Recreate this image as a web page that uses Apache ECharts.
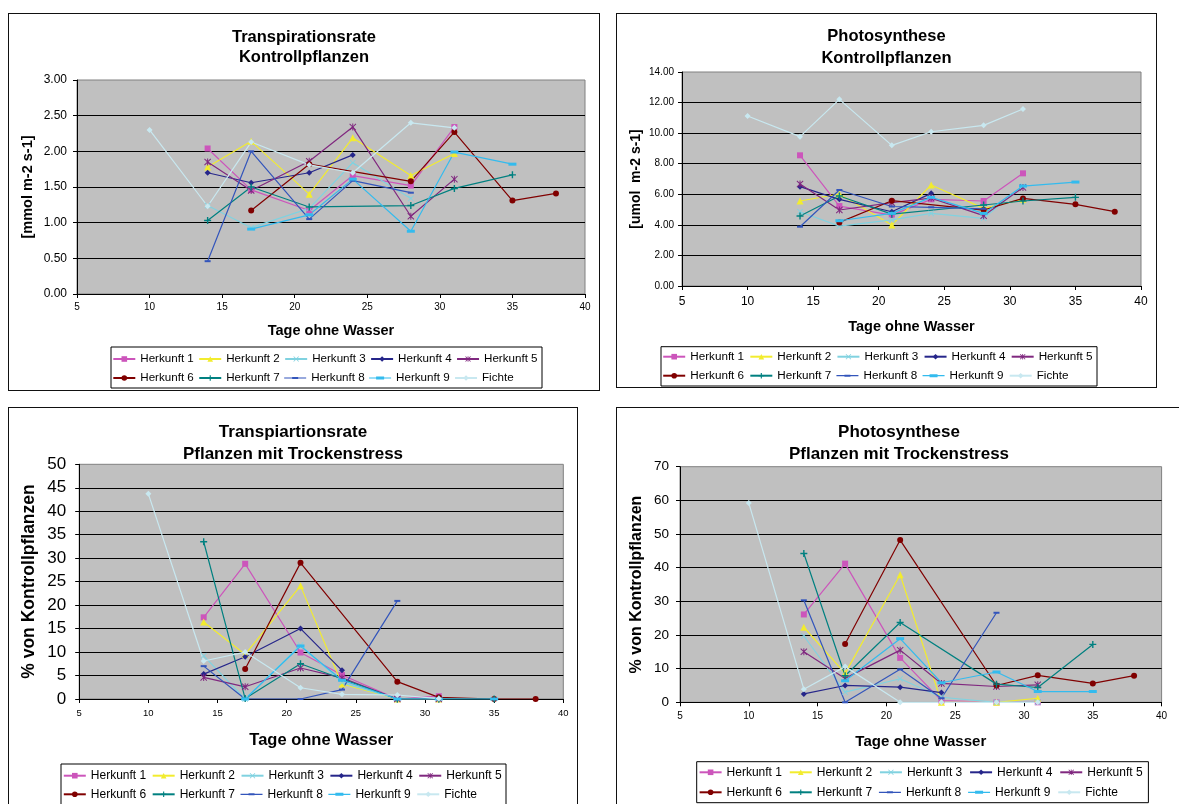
<!DOCTYPE html>
<html><head><meta charset="utf-8">
<script src="https://cdn.jsdelivr.net/npm/echarts/dist/echarts.min.js"></script>
<style>
html,body{margin:0;padding:0;background:#fff;width:1179px;height:804px;overflow:hidden;}
.p{position:absolute;border:1px solid #111;box-sizing:border-box;background:#fff;}
</style></head><body>
<div id="c1" class="p" style="left:8px;top:13px;width:592px;height:378px"></div>
<div id="c2" class="p" style="left:616px;top:13px;width:541px;height:375px"></div>
<div id="c3" class="p" style="left:8px;top:407px;width:570px;height:420px"></div>
<div id="c4" class="p" style="left:616px;top:407px;width:566px;height:420px"></div>
<script>
// ---------- DATA ----------
const days = [10, 14, 17, 21, 24, 28, 31, 35, 38];
const seriesNames = ['Herkunft 1','Herkunft 2','Herkunft 3','Herkunft 4','Herkunft 5',
                     'Herkunft 6','Herkunft 7','Herkunft 8','Herkunft 9','Fichte'];
const xTicks = [5, 10, 15, 20, 25, 30, 35, 40];

// Transpirationsrate Kontrollpflanzen [mmol m-2 s-1]
const transCtrl = [
  [null, 2.04, 1.46, 1.17, 1.66, 1.52, 2.34, null, null],
  [null, 1.78, 2.14, 1.40, 2.19, 1.66, 1.97, null, null],
  [null, 1.24, 0.93, 1.20, 1.84, 1.34, null, null, null],
  [null, 1.70, 1.56, 1.70, 1.95, null, null, null, null],
  [null, 1.85, 1.45, 1.86, 2.34, 1.09, 1.61, null, null],
  [null, null, 1.17, 1.82, null, 1.58, 2.27, 1.31, 1.41],
  [null, 1.03, 1.50, 1.22, null, 1.24, 1.48, 1.67, null],
  [null, 0.46, 2.00, 1.05, 1.59, 1.42, null, null, null],
  [null, null, 0.91, 1.11, 1.61, 0.88, 1.99, 1.82, null],
  [2.30, 1.23, 2.13, 1.81, 1.70, 2.40, 2.33, null, null]
];
// Photosynthese Kontrollpflanzen [umol m-2 s-1]
const photoCtrl = [
  [null, 8.55, 5.23, 4.64, 5.67, 5.56, 7.37, null, null],
  [null, 5.56, 6.02, 3.99, 6.61, 5.08, 5.67, null, null],
  [null, 4.86, 3.92, 4.32, 4.75, 4.43, 6.55, null, null],
  [null, 6.50, 5.67, 4.86, 6.06, null, null, null, null],
  [null, 6.67, 4.97, 5.45, 5.75, 4.60, 6.45, null, null],
  [null, null, 4.16, 5.58, null, 4.97, 5.73, 5.34, 4.86],
  [null, 4.58, 5.89, 4.70, null, 5.30, 5.56, 5.80, null],
  [null, 3.88, 6.28, 5.20, 5.15, 5.05, null, null, null],
  [null, null, 4.27, 4.75, 5.80, 4.75, 6.54, 6.80, null],
  [11.12, 9.77, 12.21, 9.20, 10.09, 10.51, 11.58, null, null]
];
// Transpirationsrate Pflanzen mit Trockenstress [% von Kontrollpflanzen]
const transStress = [
  [null, 17.4, 28.8, 9.9, 5.1, 0, 0.6, null, null],
  [null, 16.4, 9.5, 24.1, 3.2, 0, 0, null, null],
  [null, 9.2, 0, 11.5, 3.5, 0, 0, null, null],
  [null, 5.3, 9.0, 15.0, 6.1, null, null, null, null],
  [null, 4.6, 2.6, 6.6, 4.5, 0, 0, null, null],
  [null, null, 6.4, 29.0, null, 3.7, 0.35, 0, 0],
  [null, 33.5, 0.1, 7.5, null, 0, 0, 0, null],
  [null, 7.0, 0, 0, 2.0, 20.9, null, null, null],
  [null, null, 0, 11.3, 4.0, 0, 0, 0, null],
  [43.7, 8.1, 10.0, 2.4, 1.0, 0.85, 0.1, null, null]
];
// Photosynthese Pflanzen mit Trockenstress [% von Kontrollpflanzen]
const photoStress = [
  [null, 26.1, 41.2, 13.2, 0.5, 0, 0, null, null],
  [null, 22.3, 8.6, 37.9, 0, 0, 1.2, null, null],
  [null, 19.7, 3.0, 7.0, 1.5, 0, 0, null, null],
  [null, 2.5, 5.0, 4.5, 2.9, null, null, null, null],
  [null, 15.0, 7.1, 15.5, 5.6, 4.7, 5.2, null, null],
  [null, null, 17.3, 48.2, null, 5.0, 8.0, 5.6, 7.9],
  [null, 44.2, 7.9, 23.7, null, 5.4, 4.4, 17.2, null],
  [null, 30.3, 0, 9.8, 1.2, 26.6, null, null, null],
  [null, null, 6.4, 18.9, 5.8, 9.0, 3.2, 3.2, null],
  [59.2, 3.9, 10.6, 0, 0, 0, 0, null, null]
];

// ---------- STYLE ----------
const FF = '"Liberation Sans", Arial, sans-serif';
const colors = ['#CC55BB','#F2EC2E','#80D2E0','#26268A','#80287F','#800000','#008080','#3355BB','#33BBEE','#C8E8F0'];
const XP = 'path://M1,0L5,4L9,0L10,1L6,5L10,9L9,10L5,6L1,10L0,9L4,5L0,1Z';
const STAR = 'path://M1,0L5,4L9,0L10,1L6,5L10,9L9,10L5,6L1,10L0,9L4,5L0,1Z M4.3,0H5.7V10H4.3Z';
const PLUS = 'path://M4,0H6V4H10V6H6V10H4V6H0V4H4Z';
const DASH = 'path://M0,0H10V3H0Z';
const symbols = ['rect','triangle',XP,'diamond',STAR,'circle',PLUS,DASH,DASH,'diamond'];
const symSizes = [6,7,6,6,7,6,7,[6,2],[8,3],6];
// legend icons for the dash markers (line + dash, in a 22x7 box)
const BOX = 'M0,0h0.01v0.01h-0.01Z M21.99,6.99h0.01v0.01h-0.01Z ';
const legendIcons = {
  'Herkunft 8': 'path://' + BOX + 'M0,2.9H22V4.1H0Z M8,2.5H14V4.5H8Z',
  'Herkunft 9': 'path://' + BOX + 'M0,2.9H22V4.1H0Z M7,2H15V5H7Z'
};

const panels = [
  {id:'c1', title:['Transpirationsrate','Kontrollpflanzen'], yName:'[mmol m-2 s-1]', values:transCtrl,
   yMax:3, yInt:0.5, dec:2,
   grid:{left:68, top:66, width:508, height:214}, titleY:[23,43], titleFs:16.5, titleLh:20,
   xTitle:[322,317], xTitleFs:14.5, yTitle:[19,173], yTitleFs:14.5,
   yFs:12, yMargin:10, xFs:10, xMargin:8,
   legBox:[102,333,431,41], legX:103.3, legY:[345,364], legFs:11.6, legGap:4.45},
  {id:'c2', title:['Photosynthese','Kontrollpflanzen'], yName:'[umol  m-2 s-1]', values:photoCtrl,
   yMax:14, yInt:2, dec:2,
   grid:{left:65, top:58, width:459, height:214}, titleY:[22.7,44.3], titleFs:16.5, titleLh:20,
   xTitle:[294.5,313], xTitleFs:14.5, yTitle:[18.8,165], yTitleFs:14,
   yFs:10, yMargin:8, xFs:12, xMargin:10,
   legBox:[44,332.7,436,39.3], legX:45.2, legY:[342.7,361.7], legFs:11.7, legGap:5.2},
  {id:'c3', title:['Transpiartionsrate','Pflanzen mit Trockenstress'], yName:'% von Kontrollpflanzen', values:transStress,
   yMax:50, yInt:5, dec:0,
   grid:{left:70.2, top:56.3, width:484.1, height:234.7}, titleY:[24.3,46], titleFs:17, titleLh:22,
   xTitle:[312.3,332], xTitleFs:16.5, yTitle:[19.7,173.5], yTitleFs:17.5,
   yFs:17, yMargin:13, xFs:9.5, xMargin:9,
   legBox:[52,356,445,60], legX:53.8, legY:[367.7,386.3], legFs:12, legGap:5.5},
  {id:'c4', title:['Photosynthese','Pflanzen mit Trockenstress'], yName:'% von Kontrollpflanzen', values:photoStress,
   yMax:70, yInt:10, dec:0,
   grid:{left:63, top:58.7, width:481.6, height:235.6}, titleY:[24.3,46], titleFs:17, titleLh:22,
   xTitle:[303.8,333.7], xTitleFs:15, yTitle:[20,176.5], yTitleFs:16,
   yFs:13.5, yMargin:11, xFs:10, xMargin:9,
   legBox:[79.7,353.7,451.7,41], legX:81.6, legY:[364.3,384.3], legFs:12, legGap:6.8}
];

function build(P) {
  const chart = echarts.init(document.getElementById(P.id), null, {renderer:'canvas'});
  const series = seriesNames.map((n, i) => ({
    name: n, type: 'line',
    data: days.map((d, j) => [d, P.values[i][j]]).filter(p => p[1] !== null),
    symbol: symbols[i], symbolSize: symSizes[i], symbolKeepAspect: false,
    showAllSymbol: true,
    lineStyle: {color: colors[i], width: 1.2},
    itemStyle: {color: colors[i], borderWidth: 0},
    emphasis: {disabled: true},
    z: 3
  }));
  const graphic = [
    {type:'text', x:P.xTitle[0], y:P.xTitle[1], style:{text:'Tage ohne Wasser', fontSize:P.xTitleFs, fontWeight:'bold', fontFamily:FF, fill:'#000', align:'center', verticalAlign:'middle'}},
    {type:'text', x:P.yTitle[0], y:P.yTitle[1], rotation:Math.PI/2, style:{text:P.yName, fontSize:P.yTitleFs, fontWeight:'bold', fontFamily:FF, fill:'#000', align:'center', verticalAlign:'middle'}},
    {type:'rect', shape:{x:P.legBox[0], y:P.legBox[1], width:P.legBox[2], height:P.legBox[3]}, style:{fill:'none', stroke:'#000', lineWidth:1}}
  ];
  chart.setOption({
    animation: false,
    backgroundColor: '#fff',
    title: P.title.map((t, k) => ({
      text: t, left: 'center', top: P.titleY[k] - P.titleLh/2, padding: 0,
      textStyle: {fontSize: P.titleFs, fontWeight: 'bold', fontFamily: FF, color: '#000', lineHeight: P.titleLh}
    })),
    grid: Object.assign({show:true, backgroundColor:'#C0C0C0', borderColor:'#808080', borderWidth:1}, P.grid),
    xAxis: {
      type:'value', min:xTicks[0], max:xTicks[xTicks.length-1], interval:xTicks[1]-xTicks[0],
      axisLine:{show:true, onZero:false, lineStyle:{color:'#000', width:1}},
      axisTick:{show:true, length:4, lineStyle:{color:'#000'}},
      axisLabel:{show:true, fontSize:P.xFs, margin:P.xMargin, color:'#000', fontFamily:FF, showMinLabel:true, showMaxLabel:true},
      splitLine:{show:false}
    },
    yAxis: {
      type:'value', min:0, max:P.yMax, interval:P.yInt,
      axisLine:{show:true, lineStyle:{color:'#000', width:1}},
      axisTick:{show:true, length:4, lineStyle:{color:'#000'}},
      axisLabel:{show:true, fontSize:P.yFs, margin:P.yMargin, color:'#000', fontFamily:FF,
                 formatter: v => v.toFixed(P.dec)},
      splitLine:{show:true, showMaxLine:false, lineStyle:{color:'#000', width:1.2}}
    },
    legend: [0, 1].map(r => ({
      data: seriesNames.slice(r*5, r*5+5).map(n => legendIcons[n] ? {name:n, icon:legendIcons[n]} : n),
      orient: 'horizontal', left: P.legX, top: P.legY[r] - 7, padding: 0,
      itemWidth: 22, itemHeight: 7, itemGap: P.legGap, selectedMode: false,
      textStyle: {fontSize: P.legFs, color: '#000', fontFamily: FF, lineHeight: 14}
    })),
    graphic: graphic,
    series: series
  });
}
panels.forEach(build);
</script>
</body></html>
